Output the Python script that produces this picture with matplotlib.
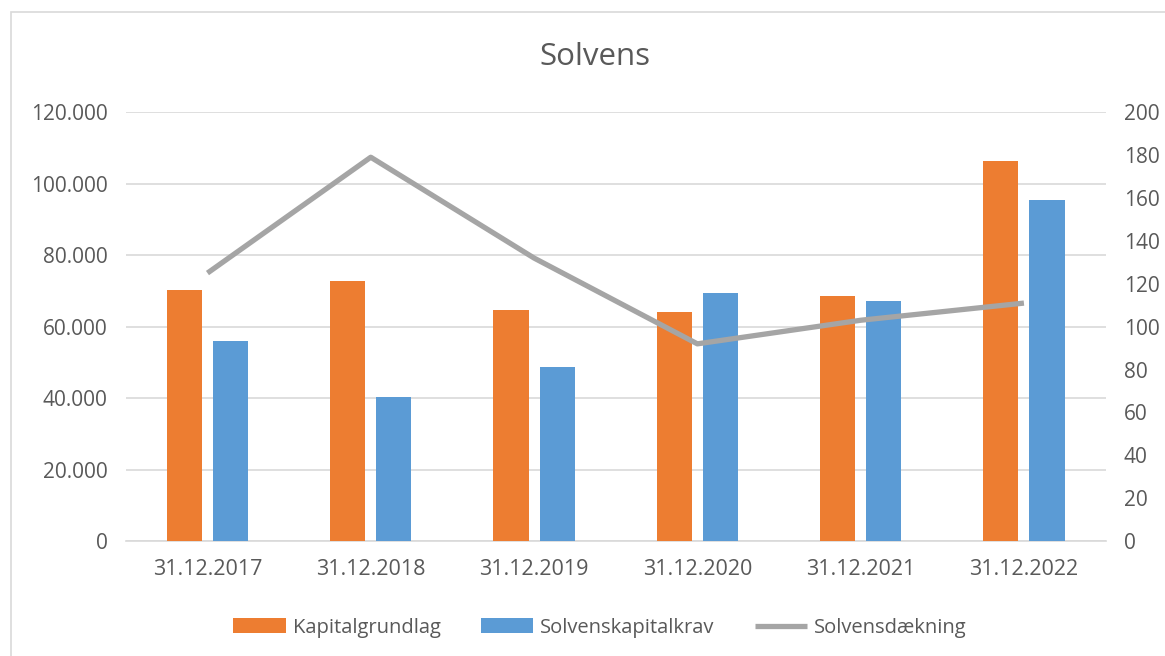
import numpy as np
import matplotlib
matplotlib.use('Agg')
import matplotlib.pyplot as plt
from matplotlib.patches import Rectangle
from matplotlib.ticker import FuncFormatter

# data
dates = ['31.12.2017', '31.12.2018', '31.12.2019', '31.12.2020', '31.12.2021', '31.12.2022']
kapitalgrundlag = [70400, 72700, 64600, 64100, 68600, 106300]
solvenskapitalkrav = [56000, 40400, 48800, 69500, 67200, 95400]
solvensdaekning = [125, 179, 132, 92, 103, 111]

ORANGE = '#ed7d31'
BLUE = '#5b9bd5'
GREY = '#a5a5a5'
TXT = '#595959'
GRID = '#d9d9d9'

plt.rcParams['font.family'] = ['Open Sans', 'DejaVu Sans']

fig = plt.figure(figsize=(11.65, 6.56), dpi=100)
ax = fig.add_axes([0.108, 0.175, 0.841, 0.654])

# chart border (partly cut off like the screenshot)
fig.patches.append(Rectangle((11 / 1165, -0.05), 1.1, 1 - 12 / 656 + 0.05,
                             transform=fig.transFigure, fill=False,
                             edgecolor='#d9d9d9', linewidth=1.2))

x = np.arange(len(dates))
w = 0.215
off = 0.141
ax.bar(x - off, kapitalgrundlag, w, color=ORANGE, label='Kapitalgrundlag', zorder=3)
ax.bar(x + off, solvenskapitalkrav, w, color=BLUE, label='Solvenskapitalkrav', zorder=3)

ax.set_xlim(-0.5, len(dates) - 0.5)
ax.set_ylim(0, 120000)
ax.set_yticks(np.arange(0, 120001, 20000))
ax.yaxis.set_major_formatter(FuncFormatter(lambda v, p: '0' if v == 0 else f'{int(v):,}'.replace(',', '.')))
ax.set_xticks(x)
ax.set_xticklabels(dates)
ax.grid(axis='y', color=GRID, linewidth=1.2, zorder=0)
for s in ['top', 'right', 'left']:
    ax.spines[s].set_visible(False)
ax.spines['bottom'].set_color(GRID)
ax.spines['bottom'].set_linewidth(1.2)
ax.tick_params(axis='y', length=0, pad=13, labelsize=15, labelcolor=TXT)
ax.tick_params(axis='x', length=0, pad=13, labelsize=15.5, labelcolor=TXT)

ax2 = ax.twinx()
ax2.plot(x, solvensdaekning, color=GREY, linewidth=3.8, label='Solvensdækning',
         solid_capstyle='butt', zorder=4)
ax2.set_ylim(0, 200)
ax2.set_yticks(np.arange(0, 201, 20))
for s in ['top', 'right', 'left', 'bottom']:
    ax2.spines[s].set_visible(False)
ax2.tick_params(axis='y', length=0, pad=13, labelsize=15, labelcolor=TXT)

fig.text(0.511, 0.913, 'Solvens', ha='center', va='center', fontsize=22.5, color=TXT)

h1, l1 = ax.get_legend_handles_labels()
h2, l2 = ax2.get_legend_handles_labels()
fig.legend(h1 + h2, l1 + l2, loc='center', bbox_to_anchor=(0.515, 0.043), ncol=3,
           frameon=False, fontsize=14.5, labelcolor=TXT, handlelength=2.6,
           handleheight=0.75, columnspacing=2.0, handletextpad=0.35)

fig.savefig('out.png', dpi=100, facecolor='white')
